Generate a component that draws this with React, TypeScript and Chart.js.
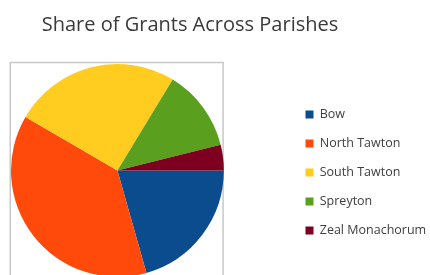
import React, { useEffect, useRef } from "react";
import { Chart, registerables } from "chart.js";

Chart.register(...registerables);

const TITLE = "Share of Grants Across Parishes";
const parishes = ["Bow", "North Tawton", "South Tawton", "Spreyton", "Zeal Monachorum"];
const shares = [20.6, 37.8, 25.3, 12.4, 3.9];
const colors = ["#0B4C8F", "#FF4A0C", "#FFCC1F", "#5AA01E", "#7D0020"];

const FONT = "'Open Sans', 'Noto Sans', sans-serif";
const TITLE_CX = 190;
const LEGEND_LEFT = 289;
const LEGEND_DY = 34;

const placeBoxes = {
  id: "placeBoxes",
  afterLayout(chart: any) {
    const t = chart.titleBlock;
    if (t) {
      const dx = TITLE_CX - (t.left + t.right) / 2;
      t.left += dx;
      t.right += dx;
    }
    const lg = chart.legend;
    if (lg) {
      const dx = LEGEND_LEFT - lg.left;
      lg.left += dx;
      lg.right += dx;
      lg.top += LEGEND_DY;
      lg.bottom += LEGEND_DY;
    }
  },
};

const frame = {
  id: "frame",
  beforeDatasetsDraw(chart: any) {
    const { ctx, chartArea: a } = chart;
    ctx.save();
    ctx.strokeStyle = "#c8c8c8";
    ctx.lineWidth = 1.5;
    ctx.strokeRect(a.left - 0.75, a.top - 1.5, a.width, a.height + 20);
    ctx.restore();
  },
};

export default function App() {
  const ref = useRef<HTMLCanvasElement | null>(null);
  useEffect(() => {
    if (!ref.current) return;
    const chart = new Chart(ref.current, {
      type: "pie",
      data: {
        labels: parishes,
        datasets: [
          {
            data: shares,
            backgroundColor: colors,
            borderWidth: 0,
          },
        ],
      },
      options: {
        responsive: false,
        animation: false,
        rotation: 90,
        layout: { padding: { left: 11, right: 59, top: 0, bottom: 3 } },
        plugins: {
          title: {
            display: true,
            text: TITLE,
            color: "#3a3a3a",
            font: { family: FONT, size: 20, weight: "normal" },
            padding: { top: 13.5, bottom: 26.5 },
          },
          legend: {
            position: "right",
            labels: {
              color: "#404040",
              font: { family: FONT, size: 12.5 },
              boxWidth: 8,
              boxHeight: 8,
              padding: 16.5,
            },
          },
          tooltip: { enabled: false },
        },
      },
      plugins: [placeBoxes, frame],
    });
    return () => chart.destroy();
  }, []);
  return (
    <div
      style={{
        position: "absolute",
        left: 0,
        top: 0,
        width: 430,
        height: 275,
        overflow: "hidden",
        background: "#fff",
      }}
    >
      <canvas ref={ref} width={430} height={280} style={{ display: "block" }} />
    </div>
  );
}
